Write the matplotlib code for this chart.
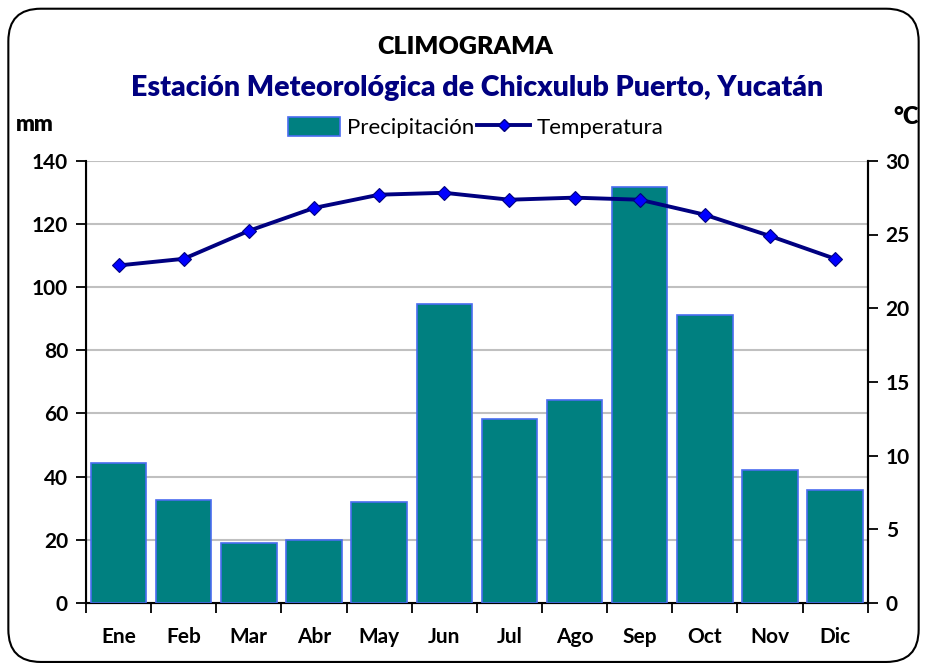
import matplotlib
matplotlib.use("Agg")
import matplotlib.pyplot as plt
from matplotlib.patches import FancyBboxPatch
from matplotlib.lines import Line2D
from matplotlib.patches import Patch

months = ["Ene", "Feb", "Mar", "Abr", "May", "Jun", "Jul", "Ago", "Sep", "Oct", "Nov", "Dic"]
precip = [44.3, 32.6, 19.0, 20.0, 32.0, 94.7, 58.3, 64.3, 131.8, 91.2, 42.1, 35.8]
temp = [22.9, 23.35, 25.25, 26.8, 27.7, 27.83, 27.36, 27.5, 27.36, 26.34, 24.9, 23.35]
mm_ticks = [0, 20, 40, 60, 80, 100, 120, 140]
c_ticks = [0, 5, 10, 15, 20, 25, 30]

plt.rcParams['font.family'] = ['Lato', 'DejaVu Sans']
plt.rcParams['font.weight'] = 'bold'

fig = plt.figure(figsize=(9.27, 6.70), dpi=100)
fig.patch.set_facecolor('white')
frame = FancyBboxPatch((0.009, 0.012), 0.982, 0.975, boxstyle="round,pad=0,rounding_size=0.035",
                       transform=fig.transFigure, facecolor='none', edgecolor='black', linewidth=1.5,
                       mutation_aspect=927 / 670, zorder=-1)
fig.patches.append(frame)

ax = fig.add_axes([0.0928, 0.1, 0.8432, 0.66])
ax.patch.set_alpha(0)
x = list(range(len(months)))
ax.bar(x, precip, width=0.85, color='#008080', edgecolor='#4a6cf0', linewidth=1.2, zorder=3)
ax.set_xlim(-0.5, len(months) - 0.5)
ax.set_ylim(0, 140)
ax.set_yticks(mm_ticks)
ax.set_yticklabels([str(t) for t in mm_ticks], fontsize=15, fontweight='bold')
ax.yaxis.grid(True, color='#c0c0c0', linewidth=1.5, zorder=0)
ax.set_axisbelow(True)
ax.set_xticks([i - 0.5 for i in range(len(months) + 1)])
ax.set_xticklabels([])
ax.set_xticks(x, minor=True)
ax.set_xticklabels(months, minor=True, fontsize=15, fontweight='bold')
ax.tick_params(axis='x', which='minor', length=0, pad=17)
ax.tick_params(axis='x', which='major', length=7, width=1.3, direction='out')
ax.tick_params(axis='y', length=7, width=1.3, direction='out', pad=6)
ax.spines['top'].set_visible(False)
for s in ['left', 'bottom', 'right']:
    ax.spines[s].set_linewidth(1.5)

ax2 = ax.twinx()
ax2.plot(x, temp, color='#000080', linewidth=2.8, marker='D', markersize=7,
         markerfacecolor='#0000ff', markeredgecolor='#000080', markeredgewidth=0.8, zorder=5)
ax2.set_ylim(0, 30)
ax2.set_yticks(c_ticks)
ax2.set_yticklabels([str(t) for t in c_ticks], fontsize=15, fontweight='bold')
ax2.tick_params(axis='y', length=7, width=1.3, direction='out', pad=6)
ax2.spines['top'].set_visible(False)
ax2.spines['right'].set_linewidth(1.5)

fig.text(0.502, 0.93, "CLIMOGRAMA", ha='center', va='center', fontsize=18, fontweight='heavy', color='black')
fig.text(0.515, 0.868, "Estación Meteorológica de Chicxulub Puerto, Yucatán", ha='center', va='center',
         fontsize=20.5, fontweight='heavy', color='#000080')
fig.text(0.038, 0.814, "mm", ha='center', va='center', fontsize=16, fontweight='heavy')
fig.text(0.978, 0.826, "°C", ha='center', va='center', fontsize=17, fontweight='heavy')

handles = [Patch(facecolor='#008080', edgecolor='#4a6cf0', linewidth=1.2),
           Line2D([0], [0], color='#000080', linewidth=2.8, marker='D', markersize=6,
                  markerfacecolor='#0000ff', markeredgecolor='#000080')]
fig.legend(handles, ["Precipitación", "Temperatura"], loc='center', bbox_to_anchor=(0.513, 0.81),
           ncol=2, frameon=False, handlelength=2.35, handleheight=1.0, handletextpad=0.3,
           columnspacing=0.15, prop={'size': 16, 'weight': 'normal'})

fig.savefig("out.png", dpi=100, facecolor='white')
